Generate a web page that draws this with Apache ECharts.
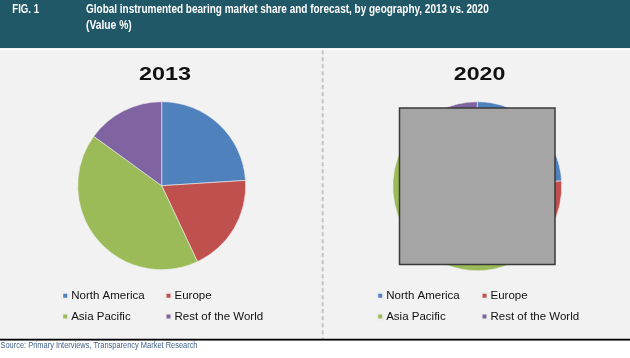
<!DOCTYPE html>
<html><head><meta charset="utf-8">
<script src="https://cdn.jsdelivr.net/npm/echarts@6/dist/echarts.min.js"></script>
<style>html,body{margin:0;padding:0;background:#fff}#c{width:630px;height:358px}</style>
</head><body><div id="c"></div>
<script>
var categories = ['North America', 'Europe', 'Asia Pacific', 'Rest of the World'];
var values2013 = [24, 19, 42, 15];
var values2020 = [24, 18, 43, 15];
var years = ['2013', '2020'];
var figLabel = 'FIG. 1';
var titleLine1 = 'Global instrumented bearing market share and forecast, by geography, 2013 vs. 2020';
var titleLine2 = '(Value %)';
var sourceText = 'Source: Primary Interviews, Transparency Market Research';
var colors = ['#4f81bd', '#c0504d', '#9bbb59', '#8064a2'];

var chart = echarts.init(document.getElementById('c'), null, {renderer: 'canvas'});

var mctx = document.createElement('canvas').getContext('2d');
function fit(text, font, target) { mctx.font = font; return target / mctx.measureText(text).width; }

function mkData(vals) {
  return categories.map(function (n, i) { return {name: n, value: vals[i], itemStyle: {color: colors[i]}}; });
}

var legendPos = [
  {name: 'North America', left: 61.2, top: 288.8},
  {name: 'Europe', left: 164.5, top: 288.8},
  {name: 'Asia Pacific', left: 61.2, top: 309.5},
  {name: 'Rest of the World', left: 164.5, top: 309.5},
  {name: 'North America', left: 376.2, top: 288.8},
  {name: 'Europe', left: 480.5, top: 288.8},
  {name: 'Asia Pacific', left: 376.2, top: 309.5},
  {name: 'Rest of the World', left: 480.5, top: 309.5}
];

var legends = legendPos.map(function (p) {
  return {
    data: [p.name], left: p.left, top: p.top, padding: 0, orient: 'horizontal',
    icon: 'rect', itemWidth: 6, itemHeight: 6, selectedMode: false,
    textStyle: {fontFamily: 'Liberation Sans, Arial, sans-serif', fontSize: 11.5, color: '#111', lineHeight: 14, padding: [0, 0, 0, -2]}
  };
});

var hFont = 'bold 12px "Liberation Sans", Arial, sans-serif';
var yFont = 'bold 18.5px "Liberation Sans", Arial, sans-serif';
var sFont = '9px "Liberation Sans", Arial, sans-serif';

function txt(text, font, x, y, target, fill, align, z) {
  return {type: 'text', z: z || 5, x: x, y: y, scaleX: fit(text, font, target), scaleY: 1,
    style: {x: 0, y: 0, text: text, font: font, fill: fill, align: align || 'left', verticalAlign: 'middle',
            textAlign: align || 'left', textVerticalAlign: 'middle'}};
}

var option = {
  backgroundColor: '#f2f2f2',
  animation: false,
  legend: legends,
  series: [
    {type: 'pie', name: years[0], center: [161.7, 185.7], radius: 84, startAngle: 90, clockwise: true,
     label: {show: false}, labelLine: {show: false}, silent: true,
     itemStyle: {borderColor: '#eee', borderWidth: 0.6},
     data: mkData(values2013)},
    {type: 'pie', name: years[1], center: [477.3, 186.2], radius: 84.5, startAngle: 90, clockwise: true,
     label: {show: false}, labelLine: {show: false}, silent: true,
     itemStyle: {borderColor: '#eee', borderWidth: 0.6},
     data: mkData(values2020)}
  ],
  graphic: [
    {type: 'rect', z: 0, shape: {x: 0, y: 0, width: 630, height: 48.3}, style: {fill: '#215867'}},
    {type: 'rect', z: 0, shape: {x: 0, y: 48.3, width: 630, height: 2}, style: {fill: '#ffffff'}},
    txt(figLabel, hFont, 12.3, 10, 26.7, '#ffffff'),
    txt(titleLine1, hFont, 86, 10, 402.7, '#ffffff'),
    txt(titleLine2, hFont, 86, 25.5, 45.7, '#ffffff'),
    txt(years[0], yFont, 165, 74.8, 52, '#111111', 'center'),
    txt(years[1], yFont, 479.5, 74.8, 51.5, '#111111', 'center'),
    {type: 'line', z: 1, shape: {x1: 322.7, y1: 50.3, x2: 322.7, y2: 338.7}, style: {stroke: '#c4c4c4', lineWidth: 2, lineDash: [4, 3]}},
    {type: 'rect', z: 1, shape: {x: 0, y: 338.7, width: 630, height: 2}, style: {fill: '#000000'}},
    {type: 'rect', z: 1, shape: {x: 0, y: 340.7, width: 630, height: 17.3}, style: {fill: '#ffffff'}},
    txt(sourceText, sFont, 0.5, 345.5, 197, '#3f5f88'),
    {type: 'rect', z: 100, shape: {x: 399.5, y: 108, width: 155.5, height: 156.5}, style: {fill: '#a5a5a5', stroke: '#3a3a3a', lineWidth: 1.5}}
  ]
};
chart.setOption(option);
</script>
</body></html>
